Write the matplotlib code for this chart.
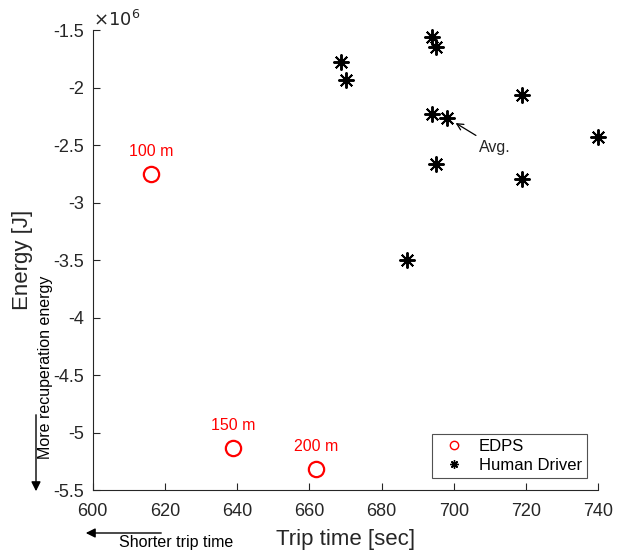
import matplotlib
matplotlib.use("Agg")
import matplotlib.pyplot as plt
from matplotlib.lines import Line2D

plt.rcParams['font.family'] = ['Liberation Sans', 'DejaVu Sans']

# EDPS results (trip time in s, energy in 10^6 J)
edps_time = [616.1, 638.9, 661.8]
edps_energy = [-2.752, -5.137, -5.320]
edps_labels = ['100 m', '150 m', '200 m']

# Human driver runs
human_time = [668.8, 670.1, 694.0, 695.1, 694.0, 698.2, 695.0, 687.0, 719.0, 719.0, 740.0]
human_energy = [-1.781, -1.937, -1.563, -1.645, -2.228, -2.265, -2.665, -3.500, -2.065, -2.796, -2.433]
avg_idx = 5

xticks = [600, 620, 640, 660, 680, 700, 720, 740]
yticks = [-5.5, -5, -4.5, -4, -3.5, -3, -2.5, -2, -1.5]
ytick_labels = ['-5.5', '-5', '-4.5', '-4', '-3.5', '-3', '-2.5', '-2', '-1.5']

axis_col = '#262626'
asterisk = (8, 2, 0)

fig = plt.figure(figsize=(6.21, 5.54), dpi=100)
ax = fig.add_axes([0.1493, 0.1155, 0.8141, 0.8303])

ax.plot(edps_time, edps_energy, linestyle='none', marker='o', markersize=11,
        markerfacecolor='none', markeredgecolor='red', markeredgewidth=1.6, clip_on=False)
ax.plot(human_time, human_energy, linestyle='none', marker=asterisk, markersize=11.5,
        color='black', markeredgewidth=1.4, clip_on=False)

for t, e, lab in zip(edps_time, edps_energy, edps_labels):
    ax.annotate(lab, (t, e), xytext=(0, 11), textcoords='offset points',
                ha='center', va='bottom', color='red', fontsize=11.5)

ax.annotate('Avg.', xy=(human_time[avg_idx], human_energy[avg_idx]),
            xytext=(23, -21), textcoords='offset points', ha='left', va='center',
            fontsize=11.5, color=axis_col,
            arrowprops=dict(arrowstyle='->', color='black', lw=0.9,
                            shrinkA=2, shrinkB=7))

ax.set_xlim(600, 740)
ax.set_ylim(-5.5, -1.5)
ax.set_xticks(xticks)
ax.set_yticks(yticks)
ax.set_yticklabels(ytick_labels)
ax.tick_params(direction='in', length=5, width=0.8, colors=axis_col, labelsize=13)
ax.tick_params(axis='x', pad=9)
ax.tick_params(axis='y', pad=6)
for side in ['top', 'right']:
    ax.spines[side].set_visible(False)
for side in ['left', 'bottom']:
    ax.spines[side].set_color(axis_col)
    ax.spines[side].set_linewidth(0.8)

ax.set_xlabel('Trip time [sec]', fontsize=16, color=axis_col)
ax.xaxis.set_label_coords(0.5, -0.084)
ax.set_ylabel('Energy [J]', fontsize=16, color=axis_col)
ax.yaxis.set_label_coords(-0.118, 0.5)
ax.text(0.0, 1.0, r'$\times10^{6}$', transform=ax.transAxes, fontsize=13,
        color=axis_col, ha='left', va='bottom', math_fontfamily='dejavusans')

handles = [Line2D([], [], linestyle='none', marker='o', markersize=6,
                  markerfacecolor='none', markeredgecolor='red', markeredgewidth=1.0),
           Line2D([], [], linestyle='none', marker=asterisk, markersize=6,
                  color='black', markeredgewidth=1.0)]
leg = ax.legend(handles, ['EDPS', 'Human Driver'], loc='lower right',
                bbox_to_anchor=(0.9776, 0.026), borderaxespad=0, fontsize=12,
                frameon=True, fancybox=False, edgecolor=axis_col, borderpad=0.3,
                handletextpad=0.5, labelspacing=0.25, handlelength=2.0)
leg.get_frame().set_linewidth(0.8)

# direction hints outside the axes
fig.text(46 / 621, 1 - 367 / 554, 'More recuperation energy', rotation=90,
         ha='center', va='center', fontsize=11.5, color='black')
fig.add_artist(plt.Annotation('', xy=(36 / 621, 1 - 494 / 554), xytext=(36 / 621, 1 - 412 / 554),
                              xycoords='figure fraction',
                              arrowprops=dict(arrowstyle='-|>', color='black', lw=1.0,
                                              mutation_scale=14)))
fig.text(176 / 621, 1 - 543 / 554, 'Shorter trip time', ha='center', va='center',
         fontsize=11.5, color='black')
fig.add_artist(plt.Annotation('', xy=(83 / 621, 1 - 533 / 554), xytext=(164 / 621, 1 - 533 / 554),
                              xycoords='figure fraction',
                              arrowprops=dict(arrowstyle='-|>', color='black', lw=1.0,
                                              mutation_scale=14)))

fig.savefig('out.png', dpi=100)
